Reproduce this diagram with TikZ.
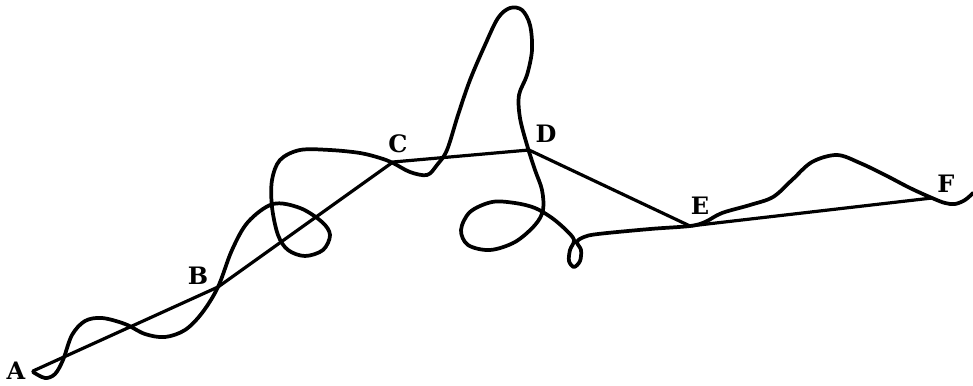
\documentclass[tikz,border=0pt]{standalone}
\usepackage{fontspec}
\setmainfont{DejaVu Serif}
\begin{document}
\begin{tikzpicture}[x=0.75pt,y=-0.75pt,
  straight/.style={line width=2.4pt, line join=round, line cap=round},
  wavy/.style={line width=2.8pt, line cap=round, line join=round},
  lbl/.style={font=\bfseries\fontsize{18pt}{18pt}\selectfont, inner sep=0pt}]
\useasboundingbox (0,0) rectangle (973,385);
\coordinate (pA) at (33,371);
\coordinate (pB) at (218,287);
\coordinate (pC) at (393,162);
\coordinate (pD) at (529,150);
\coordinate (pE) at (690,226);
\coordinate (pF) at (932,198);
\node[lbl] (lA) at (16,371) {A};
\node[lbl] (lB) at (198,276) {B};
\node[lbl] (lC) at (398,144) {C};
\node[lbl] (lD) at (546,134) {D};
\node[lbl] (lE) at (700,206) {E};
\node[lbl] (lF) at (946,184) {F};
\draw[straight] (pA) -- (pB) -- (pC) -- (pD) -- (pE) -- (pF);
\draw[wavy] plot[smooth, tension=0.55] coordinates {
 (33,372) (45,378) (55,374) (63,360) (72,335) (85,321) (102,318) (125,324)
 (145,334) (165,337) (185,330) (202,313) (218,287) (232,250) (248,222)
 (273,204) (300,208) (322,222) (330,235) (323,250) (305,256) (288,250)
 (278,235) (272,207) (272,180) (280,160) (300,150) (330,150) (360,153)
 (380,158) (393,163) (410,172) (427,175) (437,165) (447,150) (458,115)
 (470,80) (485,45) (498,18) (510,8) (522,10) (530,25) (532,50) (527,75)
 (519,95) (520,118) (527,145) (535,170) (542,190) (543,210) (535,225)
 (515,242) (490,250) (468,245) (461,230) (470,212) (492,202) (515,203)
 (535,208) (552,218) (566,230) (574,240) (570,250) (569,261) (574,267)
 (580,261) (581,250) (577,242) (584,237) (598,234) (650,229) (690,226)
 (705,222) (722,213) (750,205) (773,197) (792,180) (812,162) (837,155)
 (860,163) (885,175) (910,188) (932,198) (945,203) (955,204) (965,200)
 (973,193)};
\end{tikzpicture}
\end{document}
